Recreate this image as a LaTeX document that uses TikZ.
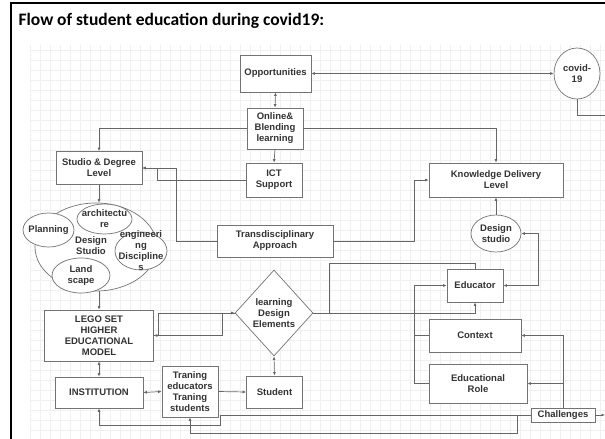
\documentclass[tikz,border=0pt]{standalone}
\usepackage{fontspec}
\setmainfont{Liberation Sans}
\newfontfamily\headfont{Carlito}
\usetikzlibrary{arrows.meta,shapes.geometric}
\tikzset{
  box/.style={draw=black!55, line width=0.7pt, fill=white, inner sep=0pt, align=center,
    font=\fontsize{9.5}{11}\selectfont\bfseries, text=black!80},
  oval/.style={ellipse, draw=black!55, line width=0.7pt, fill=white, inner sep=0pt},
  ovaltext/.style={align=center, font=\fontsize{9.5}{11}\selectfont\bfseries, text=black!80, inner sep=0pt},
  gridline/.style={draw=black!6, line width=0.4pt},
  conn/.style={draw=black!60, line width=0.7pt},
  arr/.style={conn, -{Latex[length=3.5pt,width=3pt]}},
  biarr/.style={conn, {Latex[length=3.5pt,width=3pt]}-{Latex[length=3.5pt,width=3pt]}},
}

\begin{document}
\begin{tikzpicture}[x=1pt,y=-1pt]
\useasboundingbox (0,0) rectangle (605,439);
\foreach \gx in {30,40,...,600} \draw[gridline] (\gx,45) -- (\gx,439);
\foreach \gy in {50,60,...,430} \draw[gridline] (30,\gy) -- (605,\gy);
\draw[line width=2pt] (11,439) -- (11,3) -- (605,3);
\node[anchor=west, font=\headfont\bfseries\fontsize{17.5}{20}\selectfont] (title) at (15,21) {Flow of student education during covid19:};

% top row
\node[box, minimum width=71, minimum height=37] (opp) at (275.5,73.5) {Opportunities};
\node[box, minimum width=56, minimum height=41] (online) at (275,128.5) {Online\&\\Blending\\learning};
\node[box, minimum width=56, minimum height=34] (ict) at (274,180) {ICT\\Support};
\node[oval, minimum width=46, minimum height=51,
  label={[ovaltext]center:covid-\\19}] (covid) at (577,73.5) {};
\coordinate (covidout) at (605,115);
\node[box, minimum width=134, minimum height=34] (know) at (496,180) {Knowledge Delivery\\Level};
\node[box, minimum width=86, minimum height=33] (studio) at (99,168) {Studio \& Degree\\Level};
\node[box, minimum width=116, minimum height=32] (trans) at (275,241) {Transdisciplinary\\Approach};
\node[oval, minimum width=50, minimum height=37,
  label={[ovaltext]center:Design\\studio}] (dstudio) at (496,233.5) {};

% design studio cluster
\node[oval, minimum width=122, minimum height=88] (bigE) at (96,247) {};
\node[oval, minimum width=51, minimum height=34,
  label={[ovaltext]center:Planning}] (plan) at (48.5,230) {};
\node[oval, minimum width=55, minimum height=30,
  label={[ovaltext]center:architectu\\re}] (arch) at (104.5,219) {};
\node[oval, minimum width=52, minimum height=38,
  label={[ovaltext]center:engineeri\\ng\\Discipline\\s}] (eng) at (141,251) {};
\node[oval, minimum width=58, minimum height=35,
  label={[ovaltext]center:Land\\scape}] (land) at (81,275.5) {};
\node[ovaltext] (bigEtext) at (91,246) {Design\\Studio};

% lower part
\node[box, diamond, minimum width=78, minimum height=86] (learn) at (274,313) {learning\\Design\\Elements};
\node[box, minimum width=109, minimum height=51] (lego) at (99,335.5) {LEGO SET\\HIGHER\\EDUCATIONAL\\MODEL};
\node[box, minimum width=88, minimum height=31] (inst) at (99,392.5) {INSTITUTION};
\node[box, minimum width=56, minimum height=51] (training) at (190,391.5) {Traning\\educators\\Traning\\students};
\node[box, minimum width=56, minimum height=32] (student) at (274.5,392) {Student};
\node[box, minimum width=56, minimum height=33] (educator) at (475,285.5) {Educator};
\node[box, minimum width=92, minimum height=33] (context) at (475,335.5) {Context};
\node[box, minimum width=98, minimum height=39] (erole) at (478,383.5) {Educational\\Role};
\node[box, minimum width=64, minimum height=14] (challenges) at (563,415) {Challenges};
\coordinate (challout) at (605,415);

\draw[biarr] (opp.east) -- (covid.west);
\draw[biarr] (opp.south) -- (online.north);
\draw[arr] (online.south) -- (ict.north);
\draw[arr] (online.west) -| (studio.north);
\draw[arr] (online.east) -| (know.north);
\draw[conn] (covid.south) |- (covidout);
\draw[arr] (ict.west) -| (157,168) -- (studio.east);
\draw[arr] (trans.west) -| (176,168) -- (studio.east);
\draw[arr] (trans.east) -| (414,180) -- (know.west);
\draw[arr] (studio.south) -- (studio.south |- bigE.north);
\draw[arr] (bigE.south -| lego.north) -- (lego.north);
\draw[arr] (dstudio.north) -- (know.south);

\draw[arr] (lego.east) -- (158,335.5) |- (learn.west);
\draw[arr] (learn.west) -- (222,313) -- (222,335.5) -- (lego.east);
\draw[biarr] (lego.south) -- (inst.north);
\draw[biarr] (inst.east) -- (training.west);
\draw[arr] (training.east) -- (student.west);
\draw[biarr] (learn.south) -- (student.north);
\draw[arr] (learn.east) -| (educator.south);
\draw[conn] (learn.east) -- (329,313) -- (329,263) -| (educator.north);
\draw[biarr] (educator.east) -- (538,285.5) |- (dstudio.east);
\draw[arr] (context.west) -- (414,335.5) |- (educator.west);
\draw[conn] (erole.west) -- (414,383.5) -- (414,335.5);
\draw[arr] (challenges.north) |- (context.east);
\draw[arr] (challenges.north) |- (erole.east);
\draw[arr] (challenges.east) -- (challout);
\draw[arr] (challenges.west) -- (220,415) -- (220,425) -| (inst.south);
\draw[arr] (challenges.west) -- (517,415) -- (517,433) -| (training.south);
\end{tikzpicture}
\end{document}
